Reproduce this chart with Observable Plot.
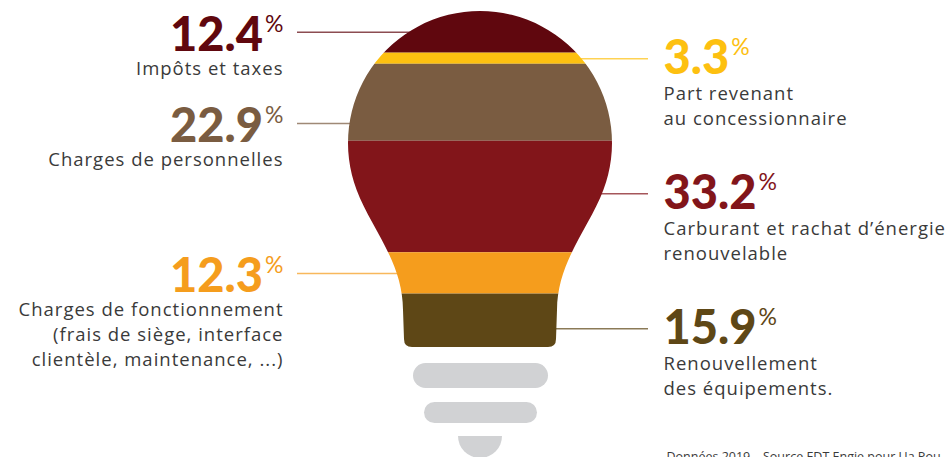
<!DOCTYPE html>
<html>
<head>
<meta charset="utf-8">
<script src="https://cdn.jsdelivr.net/npm/d3@7"></script>
<script src="https://cdn.jsdelivr.net/npm/@observablehq/plot@0.6"></script>
<style>
  html, body { margin: 0; padding: 0; background: #fff; }
  #chart svg { display: block; }
</style>
</head>
<body>
<div id="chart"></div>
<script>
// ---- data ----
const categories = [
  "Impôts et taxes",
  "Part revenant\nau concessionnaire",
  "Charges de personnelles",
  "Carburant et rachat d’énergie\nrenouvelable",
  "Charges de fonctionnement\n(frais de siège, interface\nclientèle, maintenance, ...)",
  "Renouvellement\ndes équipements."
];
const values = [12.4, 3.3, 22.9, 33.2, 12.3, 15.9];
const valueLabels = ["12.4", "3.3", "22.9", "33.2", "12.3", "15.9"];
const sides = ["left", "right", "left", "right", "left", "right"];
const colors = ["#60070e", "#fdc010", "#7a5c41", "#82151a", "#f59d1d", "#5e4716"];
// where along each band the leader line attaches (fraction of band)
const leaderAt = [0.5, 0.5, 0.77, 0.47, 0.5, 0.65];
const source = "Données 2019 – Source EDT Engie pour Ua Pou";

(function () {
// ---- table built from the arrays ----
const ends = d3.cumsum(values);
const rows = categories.map((c, i) => ({
  category: c,
  value: values[i],
  label: valueLabels[i],
  side: sides[i],
  color: colors[i],
  y1: ends[i] - values[i],
  y2: ends[i],
  yLeader: ends[i] - values[i] + leaderAt[i] * values[i]
}));

const W = 950, H = 457;
const cx = 480;            // bulb axis
const leftText = 283, rightText = 663;
const leftLine = 297, rightLine = 648;

const left = rows.filter(d => d.side === "left");
const right = rows.filter(d => d.side === "right");

const numFont = "Lato, 'Open Sans', sans-serif";
const txtFont = "'Open Sans', Lato, sans-serif";

const plot = Plot.plot({
  width: W,
  height: H,
  margin: 0,
  x: {domain: [0, W], range: [0, W], axis: null},
  y: {domain: [0, 100], range: [11, 347], axis: null},
  color: {type: "identity"},
  marks: [
    Plot.ruleY(rows, {
      y: "yLeader",
      x1: d => d.side === "left" ? leftLine : cx,
      x2: d => d.side === "left" ? cx : rightLine,
      stroke: "color",
      strokeOpacity: 0.72,
      strokeWidth: 1.5
    }),
    Plot.rect(rows, {
      x1: () => cx - 145,
      x2: () => cx + 145,
      y1: "y1",
      y2: "y2",
      fill: "color"
    }),
    // values
    Plot.text(left, {
      x: () => leftText, y: "yLeader", text: "label", fill: "color",
      textAnchor: "end", lineAnchor: "bottom", dy: 19,
      fontSize: 47, fontWeight: 900, fontFamily: numFont
    }),
    Plot.text(right, {
      x: () => rightText, y: "yLeader", text: "label", fill: "color",
      textAnchor: "start", lineAnchor: "bottom", dy: 15,
      fontSize: 47, fontWeight: 900, fontFamily: numFont
    }),
    // category labels
    Plot.text(left, {
      x: () => leftText, y: "yLeader", text: "category", fill: "#3a3a3a",
      textAnchor: "end", lineAnchor: "top", lineHeight: 1.35, dy: 25,
      fontSize: 18.5, fontFamily: txtFont
    }),
    Plot.text(right, {
      x: () => rightText, y: "yLeader", text: "category", fill: "#3a3a3a",
      textAnchor: "start", lineAnchor: "top", lineHeight: 1.35, dy: 23.5,
      fontSize: 18.5, fontFamily: txtFont
    }),
    Plot.text([source], {
      x: () => 666, frameAnchor: "bottom", text: d => d, textAnchor: "start",
      lineAnchor: "bottom", dy: 3, fill: "#3a3a3a", fontSize: 12.5,
      fontFamily: txtFont
    })
  ]
});

document.getElementById("chart").appendChild(plot);

// ---- pictogram decoration: bulb outline (clip) and socket ----
const svg = d3.select(plot);
const bandsGroup = plot.querySelector("rect").parentNode;
const bulbTop = 11, bulbBottom = 347;
const r = 132, cy = bulbTop + r;
const ay = 190, ax = Math.sqrt(r * r - (ay - cy) * (ay - cy));
const bulb = [
  `M${cx - ax},${ay}`,
  `A${r},${r} 0 1 1 ${cx + ax},${ay}`,
  `C${cx + 109.4},227.4 ${cx + 77},262 ${cx + 77},310`,
  `L${cx + 76},${bulbBottom - 8}`,
  `Q${cx + 76},${bulbBottom} ${cx + 68},${bulbBottom}`,
  `L${cx - 68},${bulbBottom}`,
  `Q${cx - 76},${bulbBottom} ${cx - 76},${bulbBottom - 8}`,
  `L${cx - 77},310`,
  `C${cx - 77},262 ${cx - 109.4},227.4 ${cx - ax},${ay}`,
  "Z"
].join(" ");
svg.append("defs").append("clipPath").attr("id", "bulb-clip")
  .append("path").attr("d", bulb);
d3.select(bandsGroup).attr("clip-path", "url(#bulb-clip)");

const socket = svg.append("g").attr("fill", "#d1d2d4");
socket.append("rect").attr("x", 413).attr("y", 363).attr("width", 135).attr("height", 25).attr("rx", 12.5);
socket.append("rect").attr("x", 424).attr("y", 402).attr("width", 113).attr("height", 21).attr("rx", 10.5);
socket.append("path").attr("d", `M${cx - 22},436 L${cx + 22},436 A22,22 0 0 1 ${cx - 22},436 Z`);

// superscript percent signs on the value texts
const valueSet = new Set(valueLabels);
svg.selectAll("text")
  .filter(function () { return valueSet.has(this.textContent); })
  .append("tspan")
  .attr("dx", 2).attr("dy", -19)
  .attr("font-size", 23).attr("font-weight", 400)
  .text("%");

// slightly open tracking on category labels
svg.selectAll("text")
  .filter(function () { return categories.includes(this.textContent) || this.querySelector("tspan") && !valueSet.has(this.firstChild.textContent); })
  .style("letter-spacing", "1px");
})();
</script>
</body>
</html>
